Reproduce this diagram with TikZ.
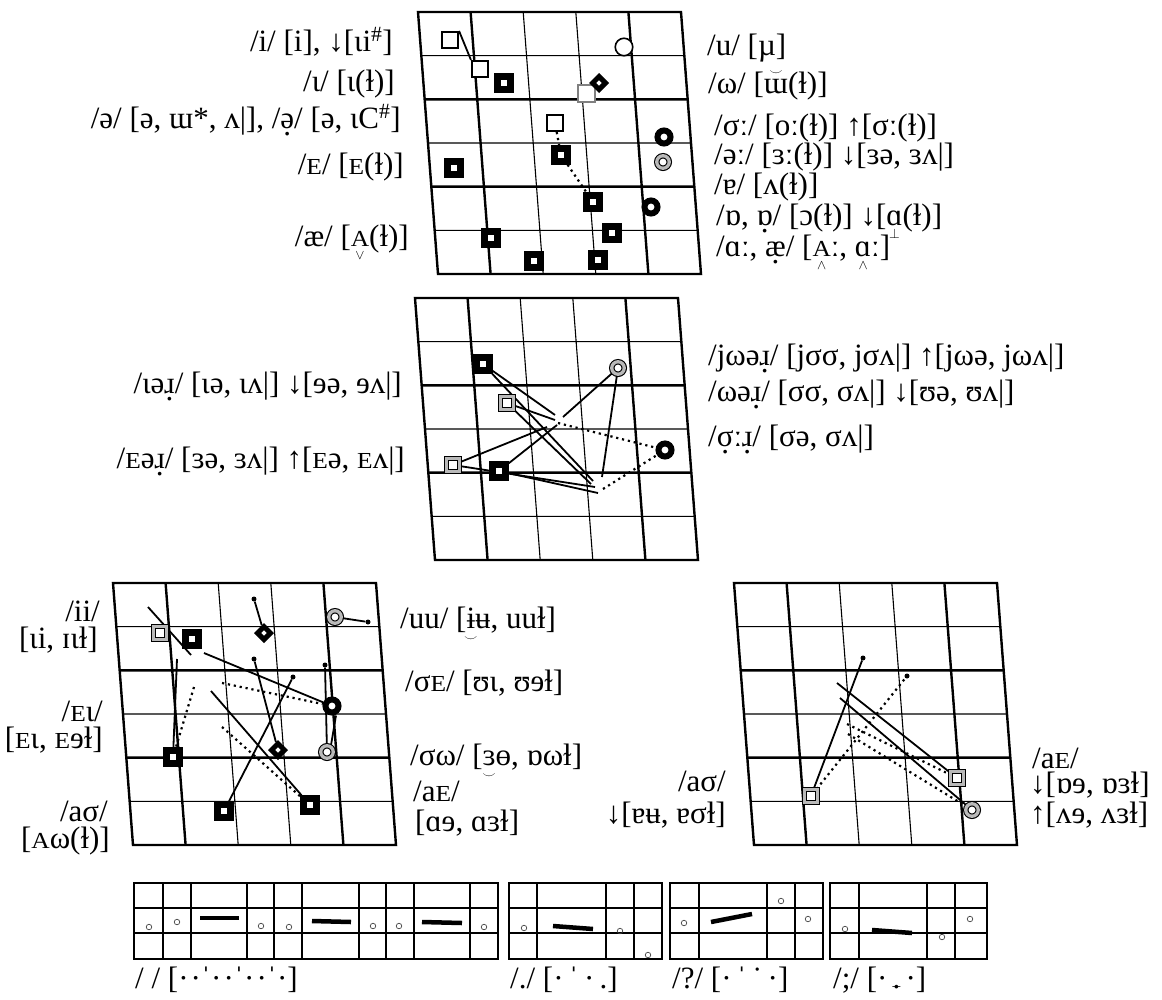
\documentclass[tikz,border=0pt]{standalone}
\usepackage{fontspec}
\usepackage{graphicx}
\setmainfont{Liberation Serif}
\usetikzlibrary{shapes.geometric,calc}
\pgfdeclarelayer{bg}\pgfdeclarelayer{mid}\pgfsetlayers{bg,mid,main}
\newcommand\sA{\scalebox{0.82}[0.74]{A}}
\newcommand\sE{\scalebox{0.82}[0.74]{E}}
\newcommand\dtb[1]{\ooalign{#1\cr\hidewidth\raisebox{-0.24em}{.}\hidewidth\cr}}
\newcommand\mkb[2]{{\setbox0\hbox{#1}\rlap{\hbox to\wd0{\hss\raisebox{-0.42em}{\scalebox{0.55}{$#2$}}\hss}}\box0}}
\newcommand\mka[2]{{\setbox0\hbox{#1}\rlap{\hbox to\wd0{\hss\raisebox{0.55em}{\scalebox{0.55}{$#2$}}\hss}}\box0}}
\newcommand\chartgrid[2]{%
 \begin{scope}[shift={(#1,#2)},xslant=-0.0763]
  \draw[thn] (0,43.67)--(263,43.67) (0,131)--(263,131) (0,218.33)--(263,218.33)
             (105.2,0)--(105.2,262) (157.8,0)--(157.8,262);
  \draw[thk] (0,87.33)--(263,87.33) (0,174.67)--(263,174.67)
             (52.6,0)--(52.6,262) (210.4,0)--(210.4,262);
  \draw[thk,line join=miter] (0,0) rectangle (263,262);
 \end{scope}}
\tikzset{
 thk/.style={line width=2.4pt},
 thn/.style={line width=1.1pt},
 fsq/.style={rectangle,draw,line width=6.5pt,fill=white,minimum size=13pt,inner sep=0pt},
 hsq/.style={rectangle,draw,line width=1.6pt,fill=white,minimum size=16.5pt,inner sep=0pt},
 gsq/.style={rectangle,draw=gray,line width=2pt,fill=white,minimum size=17pt,inner sep=0pt},
 dsq/.style={rectangle,draw,line width=1.1pt,double=gray!55,double distance=3.3pt,fill=white,minimum size=13pt,inner sep=0pt},
 dcir/.style={circle,draw,line width=1.1pt,double=gray!55,double distance=3.3pt,fill=white,minimum size=12.5pt,inner sep=0pt},
 bcir/.style={circle,draw,line width=6pt,fill=white,minimum size=13pt,inner sep=0pt},
 hcir/.style={circle,draw,line width=1.6pt,fill=white,minimum size=17.5pt,inner sep=0pt},
 dmd/.style={diamond,draw,line width=5pt,fill=white,minimum size=15pt,inner sep=0pt,aspect=1},
 pt/.style={circle,fill,minimum size=5pt,inner sep=0pt},
 sc/.style={circle,draw=black!75,line width=0.7pt,minimum size=5.5pt,inner sep=0pt},
 ln/.style={line width=1.8pt},
 dl/.style={line width=2.2pt,dash pattern=on 2.2pt off 3.8pt},
 bar/.style={line width=4.5pt},
 le/.style={anchor=base east,inner sep=0pt},
 lw/.style={anchor=base west,inner sep=0pt},
}
\begin{document}
\begin{tikzpicture}[x=1pt,y=-1pt,font=\fontsize{31}{31}\selectfont]
\useasboundingbox (0,0) rectangle (1162,999);
\begin{pgfonlayer}{bg}
 \chartgrid{418}{12}
 \chartgrid{415}{298}
 \chartgrid{113}{583}
 \chartgrid{734}{583}
 % strips
 \draw[thn] (134,908)--(498,908) (134,933)--(498,933) (163,883)--(163,959) (274,883)--(274,959) (386,883)--(386,959);
 \draw[thk] (191,883)--(191,959) (247,883)--(247,959) (302,883)--(302,959) (359,883)--(359,959) (414,883)--(414,959) (470,883)--(470,959);
 \draw[thk] (134,883) rectangle (498,959);
 \draw[thn] (509,908)--(662,908) (509,933)--(662,933) (634,883)--(634,959);
 \draw[thk] (537,883)--(537,959) (606,883)--(606,959);
 \draw[thk] (509,883) rectangle (662,959);
 \draw[thn] (670,908)--(823,908) (670,933)--(823,933) (795,883)--(795,959);
 \draw[thk] (699,883)--(699,959) (767,883)--(767,959);
 \draw[thk] (670,883) rectangle (823,959);
 \draw[thn] (830,908)--(987,908) (830,933)--(987,933) (955,883)--(955,959);
 \draw[thk] (859,883)--(859,959) (927,883)--(927,959);
 \draw[thk] (830,883) rectangle (987,959);
\end{pgfonlayer}
% ---------- top chart ----------
\node[hsq] (t1) at (450,40) {};
\node[hsq] (t2) at (480,69) {};
\node[fsq] (t3) at (504,83) {};
\node[gsq] (t5) at (586,93) {};
\node[dmd] (t4) at (599,83) {};
\node[hcir] (t6) at (624,47) {};
\node[hsq] (t7) at (555,123) {};
\node[fsq] (t8) at (561,155) {};
\node[bcir] (t9) at (664,137) {};
\node[dcir] (t10) at (663,162) {};
\node[fsq] (t11) at (454,168) {};
\node[bcir] (t12) at (651,207) {};
\node[fsq] (t13) at (593,202) {};
\node[fsq] (t14) at (612,233) {};
\node[fsq] (t15) at (491,238) {};
\node[fsq] (t16) at (534,261) {};
\node[fsq] (t17) at (598,260) {};
\begin{pgfonlayer}{mid}
 \draw[ln] (t1.north east) -- (t2.north west);
 \draw[dl] (t7) -- (t8) -- (t13);
\end{pgfonlayer}
\node[le] (tl1) at (393,51) {/i/ [i], ↓[ɩi\textsuperscript{\#}]};
\node[le] (tl2) at (395,91) {/ɩ/ [ɩ(ɫ)]};
\node[le] (tl3) at (401,128) {/ə/ [ə, ɯ*, ʌ|], /\dtb{ə}/ [ə, ɩC\textsuperscript{\#}]};
\node[le] (tl4) at (404,174) {/\sE/ [\sE(ɫ)]};
\node[le] (tl5) at (409,246) {/æ/ [\mkb{\sA}{\vee}(ɫ)]};
\node[lw] (tr1) at (707,55) {/u/ [µ]};
\node[lw] (tr2) at (708,93) {/ω/ [\mka{ɯ}{\smile}(ɫ)]};
\node[lw] (tr3) at (714,135) {/σː/ [oː(ɫ)] ↑[σː(ɫ)]};
\node[lw] (tr4) at (714,164) {/əː/ [ɜː(ɫ)] ↓[ɜə, ɜʌ|]};
\node[lw] (tr5) at (714,194) {/ɐ/ [ʌ(ɫ)]};
\node[lw] (tr6) at (716,225) {/ɒ, \dtb{ɒ}/ [ɔ(ɫ)] ↓[\mkb{ɑ}{\perp}(ɫ)]};
\node[lw] (tr7) at (716,256) {/ɑː, \dtb{æ}/ [\mkb{\sA}{\wedge}ː, \mkb{ɑ}{\wedge}ː]};
% ---------- middle chart ----------
\node[fsq] (m1) at (483,364) {};
\node[dsq] (m2) at (507,403) {};
\node[dsq] (m3) at (453,465) {};
\node[fsq] (m4) at (499,471) {};
\node[dcir] (m5) at (618,368) {};
\node[bcir] (m6) at (665,450) {};
\coordinate (ma1) at (555,415); \coordinate (ma2) at (593,481);
\coordinate (mb1) at (555,420); \coordinate (mb2) at (591,484);
\coordinate (mc1) at (547,427); \coordinate (mc2) at (595,487);
\coordinate (md1) at (557,425); \coordinate (md2) at (598,493);
\coordinate (me1) at (563,417); \coordinate (me2) at (602,477);
\coordinate (mf1) at (558,423); \coordinate (mf2) at (603,489);
\begin{pgfonlayer}{mid}
 \draw[ln] (m1) -- (ma1); \draw[ln] (m1) -- (ma2);
 \draw[ln] (m2) -- (mb1); \draw[ln] (m2) -- (mb2);
 \draw[ln] (m3) -- (mc1); \draw[ln] (m3) -- (mc2);
 \draw[ln] (m4) -- (md1); \draw[ln] (m4) -- (md2);
 \draw[ln] (m5) -- (me1); \draw[ln] (m5) -- (me2);
 \draw[dl] (mf1) -- (m6); \draw[dl] (mf2) -- (m6);
\end{pgfonlayer}
\node[le] (ml1) at (402,393) {/ɩə\dtb{ɹ}/ [ɩə, ɩʌ|] ↓[ɘə, ɘʌ|]};
\node[le] (ml2) at (405,468) {/\sE ə\dtb{ɹ}/ [ɜə, ɜʌ|] ↑[\sE ə, \sE ʌ|]};
\node[lw] (mr1) at (708,365) {/jωə\dtb{ɹ}/ [jσσ, jσʌ|] ↑[jωə, jωʌ|]};
\node[lw] (mr2) at (708,401) {/ωə\dtb{ɹ}/ [σσ, σʌ|] ↓[ʊə, ʊʌ|]};
\node[lw] (mr3) at (708,446) {/\dtb{σ}ː\dtb{ɹ}/ [σə, σʌ|]};
% ---------- bottom-left chart ----------
\node[dsq] (b1) at (160,633) {};
\node[fsq] (b2) at (192,639) {};
\node[dmd] (b3) at (264,633) {};
\node[dcir] (b4) at (335,617) {};
\node[bcir] (b5) at (332,706) {};
\node[dcir] (b6) at (327,752) {};
\node[fsq] (b7) at (173,757) {};
\node[dmd] (b8) at (278,750) {};
\node[fsq] (b9) at (224,811) {};
\node[fsq] (b10) at (310,805) {};
\node[pt] (d1) at (254,599) {};
\node[pt] (d2) at (368,622) {};
\node[pt] (d3) at (254,659) {};
\node[pt] (d4) at (293,677) {};
\node[pt] (d5) at (325,665) {};
\coordinate (c1) at (148,607); \coordinate (c2) at (191,655);
\coordinate (c3) at (204,653); \coordinate (c4) at (177,659);
\coordinate (c5) at (194,687); \coordinate (c6) at (211,691);
\coordinate (c7) at (222,683); \coordinate (c8) at (222,727);
\begin{pgfonlayer}{mid}
 \draw[ln] (c1) -- (c2);
 \draw[ln] (c3) -- (b5);
 \draw[ln] (d1) -- (b3);
 \draw[ln] (b4) -- (d2);
 \draw[ln] (c4) -- (b7);
 \draw[dl] (c5) -- (b7);
 \draw[ln] (d3) -- (b8);
 \draw[ln] (d4) -- (b9);
 \draw[ln] (c6) -- (b10);
 \draw[dl] (c7) -- (b5);
 \draw[dl] (c8) -- (b10);
 \draw[ln] (d5) -- (b6);
 \draw[ln] ([xshift=4pt]b5.south) -- ([xshift=4pt]b6.north);
\end{pgfonlayer}
\node[le] (bl1) at (100,621) {/ii/};
\node[le] (bl2) at (98,648) {[ɩi, ɪɩɫ]};
\node[le] (bl3) at (103,721) {/\sE ɩ/};
\node[le] (bl4) at (103,748) {[\sE ɩ, \sE ɘɫ]};
\node[le] (bl5) at (108,821) {/aσ/};
\node[le] (bl6) at (110,848) {[\sA ω(ɫ)]};
\node[lw] (br1) at (400,628) {/uu/ [\mkb{ɨ}{\smile}ʉ, uuɫ]};
\node[lw] (br2) at (405,691) {/σ\sE/ [ʊɩ, ʊɘɫ]};
\node[lw] (br3) at (410,765) {/σω/ [\mkb{ɜ}{\smile}ɵ, ɒωɫ]};
\node[lw] (br4) at (413,801) {/a\sE/};
\node[lw] (br5) at (415,831) {[ɑɘ, ɑɜɫ]};
% ---------- bottom-right chart ----------
\node[dsq] (r1) at (811,796) {};
\node[dsq] (r2) at (957,778) {};
\node[dcir] (r3) at (972,810) {};
\node[pt] (e1) at (863,658) {};
\node[pt] (e2) at (907,676) {};
\coordinate (f1) at (837,683); \coordinate (f2) at (840,698);
\coordinate (f3) at (847,724); \coordinate (f4) at (848,734);
\begin{pgfonlayer}{mid}
 \draw[ln] (r1) -- (e1);
 \draw[dl] (r1) -- (e2);
 \draw[ln] (f1) -- (r2);
 \draw[ln] (f2) -- (r3);
 \draw[dl] (f3) -- (r2);
 \draw[dl] (f4) -- (r3);
\end{pgfonlayer}
\node[le] (rl1) at (726,791) {/aσ/};
\node[le] (rl2) at (726,823) {↓[ɐʉ, ɐσɫ]};
\node[lw] (rr1) at (1032,768) {/a\sE/};
\node[lw] (rr2) at (1030,793) {↓[ɒɘ, ɒɜɫ]};
\node[lw] (rr3) at (1030,823) {↑[ʌɘ, ʌɜɫ]};
% ---------- strips ----------
\foreach \x/\y [count=\i] in {149/927,177/922,261/926,289/927,373/926,399/926,484/927,524/928,620/931,648/955,684/923,781/901,808/919,845/929,942/937,970/919}
  \node[sc] (s\i) at (\x,\y) {};
\draw[bar] (200,918) -- (239,918);
\draw[bar] (312,921) -- (351,922);
\draw[bar] (422,922) -- (462,923);
\draw[bar] (553,926) -- (593,929);
\draw[bar] (711,922) -- (752,914);
\draw[bar] (872,930) -- (912,933);
\node[lw] (sl1) at (135,988) {/ / [·\kern2pt·ˈ·\kern2pt·ˈ·\kern2pt·ˈ·]};
\node[lw] (sl2) at (510,988) {/./ [·\,ˈ\,·\,.]};
\node[lw] (sl3) at (672,988) {/?/ [·\,ˈ\,˙\,·]};
\node[lw] (sl4) at (833,988) {/;/ [·\,\ooalign{.\cr\hidewidth\raisebox{0.08em}{\scalebox{0.5}{\_}}\hidewidth\cr}\,·]};
\end{tikzpicture}
\end{document}
